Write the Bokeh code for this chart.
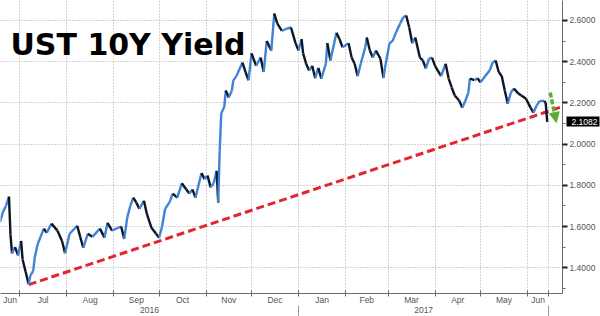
from datetime import datetime, timedelta
from bokeh.plotting import figure
from bokeh.models import (FixedTicker, DatetimeAxis, LinearAxis, Label, Arrow, NormalHead,
                          Range1d, ColumnDataSource, PrintfTickFormatter)
from bokeh.embed import file_html
from bokeh.resources import INLINE

# ---------------- data ----------------
dates = [
    "2016-06-18", "2016-06-20", "2016-06-22", "2016-06-24", "2016-06-25", "2016-06-26",
    "2016-06-28", "2016-06-30", "2016-07-02", "2016-07-03", "2016-07-05", "2016-07-07",
    "2016-07-08", "2016-07-10", "2016-07-11", "2016-07-13", "2016-07-17", "2016-07-19",
    "2016-07-22", "2016-07-26", "2016-07-29", "2016-07-31", "2016-08-03", "2016-08-08",
    "2016-08-10", "2016-08-12", "2016-08-15", "2016-08-18", "2016-08-23", "2016-08-26",
    "2016-08-28", "2016-08-31", "2016-09-04", "2016-09-06", "2016-09-08", "2016-09-10",
    "2016-09-12", "2016-09-14", "2016-09-16", "2016-09-18", "2016-09-21", "2016-09-23",
    "2016-09-26", "2016-09-29", "2016-10-01", "2016-10-03", "2016-10-05", "2016-10-08",
    "2016-10-10", "2016-10-13", "2016-10-16", "2016-10-19", "2016-10-21", "2016-10-23",
    "2016-10-25", "2016-10-29", "2016-10-31", "2016-11-02", "2016-11-04", "2016-11-06",
    "2016-11-08", "2016-11-09", "2016-11-10", "2016-11-11", "2016-11-13", "2016-11-14",
    "2016-11-16", "2016-11-18", "2016-11-19", "2016-11-21", "2016-11-25", "2016-11-27",
    "2016-11-29", "2016-12-01", "2016-12-04", "2016-12-07", "2016-12-09", "2016-12-11",
    "2016-12-14", "2016-12-16", "2016-12-18", "2016-12-21", "2016-12-24", "2016-12-27",
    "2016-12-30", "2017-01-01", "2017-01-03", "2017-01-04", "2017-01-06", "2017-01-08",
    "2017-01-10", "2017-01-12", "2017-01-14", "2017-01-16", "2017-01-19", "2017-01-20",
    "2017-01-22", "2017-01-26", "2017-01-28", "2017-01-30", "2017-02-03", "2017-02-05",
    "2017-02-07", "2017-02-09", "2017-02-11", "2017-02-14", "2017-02-15", "2017-02-17",
    "2017-02-19", "2017-02-21", "2017-02-24", "2017-02-26", "2017-02-27", "2017-03-02",
    "2017-03-04", "2017-03-06", "2017-03-09", "2017-03-11", "2017-03-13", "2017-03-15",
    "2017-03-17", "2017-03-19", "2017-03-22", "2017-03-24", "2017-03-26", "2017-03-28",
    "2017-03-30", "2017-04-01", "2017-04-05", "2017-04-08", "2017-04-10", "2017-04-12",
    "2017-04-14", "2017-04-17", "2017-04-19", "2017-04-21", "2017-04-23", "2017-04-24",
    "2017-04-27", "2017-04-29", "2017-05-01", "2017-05-03", "2017-05-07", "2017-05-09",
    "2017-05-11", "2017-05-13", "2017-05-15", "2017-05-17", "2017-05-19", "2017-05-21",
    "2017-05-23", "2017-05-26", "2017-05-28", "2017-05-31", "2017-06-03", "2017-06-05",
    "2017-06-07", "2017-06-09", "2017-06-12", "2017-06-13", "2017-06-14",
]
yields = [
    1.620, 1.670, 1.700, 1.745, 1.560, 1.470,
    1.500, 1.460, 1.530, 1.440, 1.380, 1.320,
    1.360, 1.385, 1.450, 1.516, 1.590, 1.570,
    1.614, 1.580, 1.530, 1.470, 1.565, 1.604,
    1.550, 1.497, 1.565, 1.550, 1.590, 1.546,
    1.618, 1.580, 1.594, 1.600, 1.540, 1.643,
    1.700, 1.740, 1.716, 1.686, 1.725, 1.660,
    1.594, 1.565, 1.546, 1.600, 1.686, 1.720,
    1.760, 1.740, 1.810, 1.780, 1.760, 1.780,
    1.740, 1.860, 1.830, 1.847, 1.790, 1.810,
    1.870, 1.716, 1.970, 2.150, 2.180, 2.260,
    2.226, 2.260, 2.310, 2.330, 2.396, 2.350,
    2.310, 2.440, 2.380, 2.420, 2.350, 2.500,
    2.454, 2.634, 2.585, 2.550, 2.560, 2.566,
    2.490, 2.454, 2.510, 2.440, 2.390, 2.357,
    2.380, 2.320, 2.370, 2.318, 2.390, 2.490,
    2.406, 2.540, 2.510, 2.470, 2.490, 2.420,
    2.390, 2.330, 2.390, 2.470, 2.517, 2.454,
    2.420, 2.454, 2.415, 2.320, 2.370, 2.490,
    2.500, 2.537, 2.585, 2.615, 2.624, 2.566,
    2.490, 2.517, 2.420, 2.406, 2.367, 2.415,
    2.420, 2.380, 2.330, 2.390, 2.318, 2.275,
    2.236, 2.210, 2.177, 2.210, 2.250, 2.318,
    2.310, 2.320, 2.300, 2.320, 2.357, 2.396,
    2.406, 2.350, 2.330, 2.260, 2.196, 2.250,
    2.270, 2.245, 2.236, 2.220, 2.177, 2.153,
    2.187, 2.210, 2.210, 2.200, 2.1082,
]
last_value_label = "2.1082"

trend_dates = ["2016-07-07", "2017-06-24"]
trend_values = [1.318, 2.182]

arrow_dates = ["2017-06-16", "2017-06-20"]
arrow_values = [2.250, 2.105]

month_starts = ["2016-07-01", "2016-08-01", "2016-09-01", "2016-10-01", "2016-11-01",
                "2016-12-01", "2017-01-01", "2017-02-01", "2017-03-01", "2017-04-01",
                "2017-05-01", "2017-06-01"]
month_labels = ["Jun", "Jul", "Aug", "Sep", "Oct", "Nov", "Dec",
                "Jan", "Feb", "Mar", "Apr", "May", "Jun"]
year_labels = ["2016", "2017"]
year_start = "2017-01-01"

y_ticks = [1.4, 1.6, 1.8, 2.0, 2.2, 2.4, 2.6]
y_minor = [1.3, 1.5, 1.7, 1.9, 2.1, 2.3, 2.5]

title_text = "UST 10Y Yield"

# ---------------- helpers ----------------
EPOCH = datetime(1970, 1, 1)


def to_dt(s):
    return datetime.strptime(s, "%Y-%m-%d")


def ms(d):
    return (d - EPOCH).total_seconds() * 1000.0


X_START = datetime(2016, 6, 18, 10)
X_END = datetime(2017, 6, 24, 2)
Y0, Y1 = 1.275, 2.697
W, H = 600, 316
FRAME_H = 293

xd = [to_dt(s) for s in dates]
end_marker = xd[-1] + timedelta(days=1)

bounds = [ms(to_dt(s)) for s in month_starts]
all_bounds = [ms(X_START)] + bounds + [ms(end_marker)]
month_mids = [(all_bounds[i] + all_bounds[i + 1]) / 2 for i in range(len(all_bounds) - 1)]
year_bounds = [ms(X_START), ms(to_dt(year_start)), ms(end_marker)]
year_mids = [(year_bounds[i] + year_bounds[i + 1]) / 2 for i in range(2)]

BLUE = "#3f82d6"
DARK = "#0d1626"
GRID = "#a8a8a8"
AXIS = "#6a6a6a"
TXT = "#555555"
RED = "#e3262e"
GREEN = "#5dab35"
FONT = "Liberation Sans"

p = figure(width=W, height=H, x_axis_type="datetime", y_axis_location="right",
           x_range=Range1d(ms(X_START), ms(X_END)), y_range=Range1d(Y0, Y1),
           output_backend="svg", toolbar_location=None,
           min_border_left=0, min_border_top=0, min_border_right=34,
           min_border_bottom=H - FRAME_H)
p.outline_line_color = None
p.background_fill_color = "white"
p.border_fill_color = "white"

# grids
p.xgrid.ticker = FixedTicker(ticks=bounds + [ms(end_marker)])
p.ygrid.ticker = FixedTicker(ticks=y_ticks)
for g in (p.xgrid, p.ygrid):
    g.grid_line_color = GRID
    g.grid_line_dash = "1 2"
    g.grid_line_width = 1

# right axis
ya = p.yaxis[0]
ya.ticker = FixedTicker(ticks=y_ticks, minor_ticks=y_minor)
ya.formatter = PrintfTickFormatter(format="%.4f")
ya.axis_line_color = AXIS
ya.major_tick_line_color = "#222222"
ya.major_tick_line_width = 2
ya.major_tick_in = 0
ya.major_tick_out = 5
ya.minor_tick_line_color = AXIS
ya.minor_tick_in = 0
ya.minor_tick_out = 3
ya.major_label_standoff = 2
ya.major_label_text_font = FONT
ya.major_label_text_font_size = "8.5px"
ya.major_label_text_color = TXT

# last-value tag: an outer right axis with a single thick black tick and white label
tag = LinearAxis(ticker=FixedTicker(ticks=[yields[-1]], minor_ticks=[]))
tag.major_label_overrides = {yields[-1]: last_value_label}
tag.axis_line_color = None
tag.major_tick_line_color = "black"
tag.major_tick_line_width = 10
tag.major_tick_in = 32
tag.major_tick_out = 1
tag.minor_tick_line_color = None
tag.major_label_standoff = -28
tag.major_label_text_font = FONT
tag.major_label_text_font_size = "8.5px"
tag.major_label_text_color = "white"
p.add_layout(tag, "right")

# bottom axis: months
xa = p.xaxis[0]
xa.ticker = FixedTicker(ticks=month_mids, minor_ticks=bounds + [ms(end_marker)])
xa.major_label_overrides = {m: lab for m, lab in zip(month_mids, month_labels)}
xa.axis_line_color = AXIS
xa.major_tick_in = 0
xa.major_tick_out = 0
xa.minor_tick_line_color = AXIS
xa.minor_tick_in = 3
xa.minor_tick_out = 3
xa.major_label_standoff = -2
xa.major_label_text_font = FONT
xa.major_label_text_font_size = "8.5px"
xa.major_label_text_color = TXT

# bottom axis: years
xb = DatetimeAxis()
xb.ticker = FixedTicker(ticks=year_mids, minor_ticks=[year_bounds[1], year_bounds[2]])
xb.major_label_overrides = {m: lab for m, lab in zip(year_mids, year_labels)}
xb.axis_line_color = None
xb.major_tick_in = 0
xb.major_tick_out = 0
xb.minor_tick_line_color = "#9a9a9a"
xb.minor_tick_in = 2
xb.minor_tick_out = 11
xb.major_label_standoff = -12
xb.major_label_text_font = FONT
xb.major_label_text_font_size = "8.5px"
xb.major_label_text_color = TXT
p.add_layout(xb, "below")

# trend line
p.line([to_dt(s) for s in trend_dates], trend_values, line_color=RED,
       line_width=3, line_dash="8 4")

# price series, coloured by direction
up = [yields[i + 1] >= yields[i] for i in range(len(yields) - 1)]
src = ColumnDataSource(dict(
    x0=xd[:-1], y0=yields[:-1], x1=xd[1:], y1=yields[1:],
    c=[BLUE if u else DARK for u in up]))
p.segment("x0", "y0", "x1", "y1", source=src, line_color="c", line_width=2.4)

# green arrow
p.add_layout(Arrow(end=NormalHead(size=10, fill_color=GREEN, line_color=GREEN),
                   x_start=ms(to_dt(arrow_dates[0])), y_start=arrow_values[0],
                   x_end=ms(to_dt(arrow_dates[1])), y_end=arrow_values[1],
                   line_color=GREEN, line_width=3.5, line_dash="5 2"))

# title
p.add_layout(Label(x=10, y=249, x_units="screen", y_units="screen", text=title_text,
                   text_font="DejaVu Sans", text_font_size="30px",
                   text_font_style="bold", text_color="black",
                   text_baseline="alphabetic"))

open("out.html", "w").write(file_html(p, INLINE))
